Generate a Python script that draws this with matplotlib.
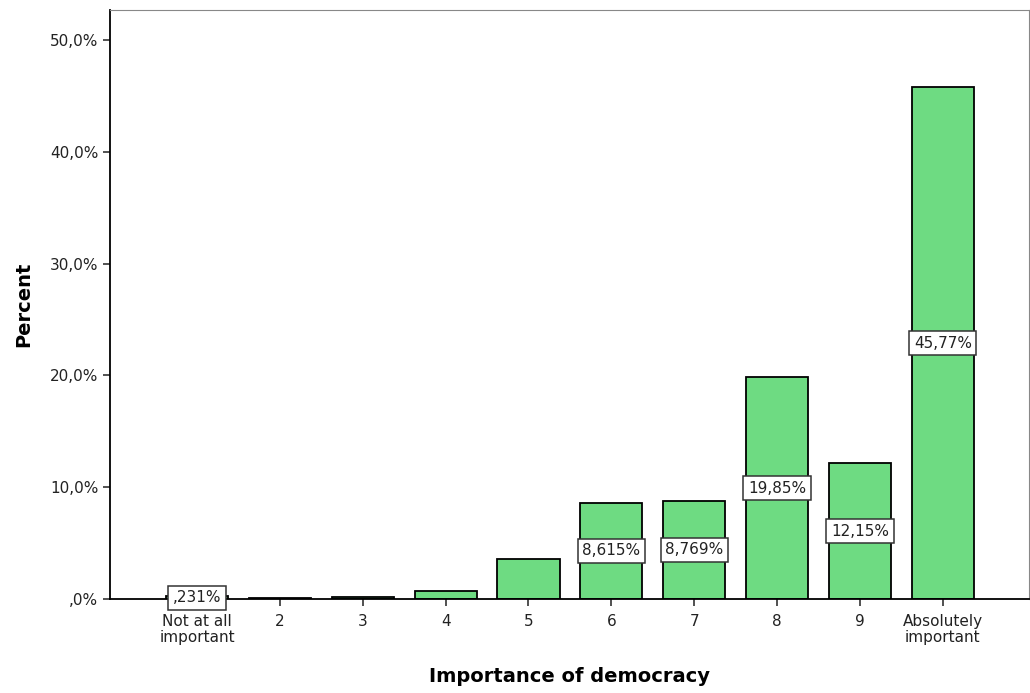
import numpy as np
import matplotlib.pyplot as plt

categories = ["Not at all\nimportant", "2", "3", "4", "5", "6", "7", "8", "9", "Absolutely\nimportant"]
percent = [0.231, 0.08, 0.15, 0.75, 3.62, 8.615, 8.769, 19.85, 12.15, 45.77]
bar_labels = [",231%", None, None, None, None, "8,615%", "8,769%", "19,85%", "12,15%", "45,77%"]
yticks = [0, 10, 20, 30, 40, 50]
ytick_labels = [",0%", "10,0%", "20,0%", "30,0%", "40,0%", "50,0%"]

fig = plt.figure(figsize=(10.3, 6.93), dpi=100)
ax = fig.add_axes([110 / 1030, 94 / 693, 919 / 1030, 589 / 693])

x = np.arange(len(categories))
ax.bar(x, percent, width=0.75, color="#6edb82", edgecolor="black", linewidth=1.3, zorder=2)

# value labels in boxes at the middle of the bars
for xi, val, lab in zip(x, percent, bar_labels):
    if lab is None:
        continue
    ax.text(xi, val / 2, lab, ha="center", va="center", fontsize=11, color="#222222", zorder=4,
            bbox=dict(boxstyle="square,pad=0.3", facecolor="white", edgecolor="#333333", linewidth=1.1))

ax.set_xlim(-1.05, 10.04)
ax.set_ylim(0, 52.7)
ax.set_xticks(x)
ax.set_xticklabels(categories, fontsize=11, color="#222222", linespacing=1.05)
ax.set_yticks(yticks)
ax.set_yticklabels(ytick_labels, fontsize=11, color="#222222")
ax.tick_params(axis="both", direction="out", length=5, width=1.2, color="#333333")
ax.tick_params(axis="x", pad=6)

ax.spines["left"].set_linewidth(1.3)
ax.spines["bottom"].set_linewidth(1.3)
ax.spines["top"].set_color("#888888")
ax.spines["right"].set_color("#888888")

ax.set_ylabel("Percent", fontsize=14, fontweight="bold", labelpad=12)
ax.set_xlabel("Importance of democracy", fontsize=14, fontweight="bold", labelpad=16)

fig.savefig("out.png", dpi=100)
